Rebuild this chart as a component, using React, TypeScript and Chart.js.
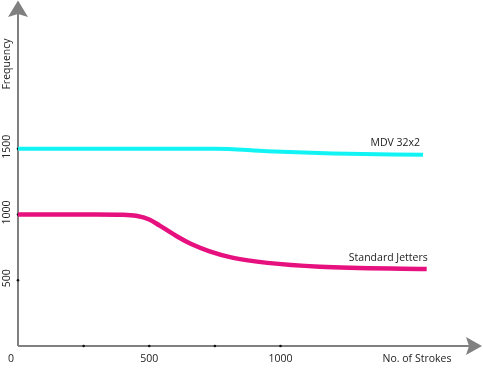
import React, { useEffect, useRef } from "react";
import { Chart, registerables } from "chart.js";
Chart.register(...registerables);

const mdvStrokes = [0, 375, 750, 950, 1200, 1543];
const mdvFreq = [1500, 1500, 1500, 1481, 1464, 1453];
const stdStrokes = [0, 300, 400, 450, 500, 540, 600, 660, 730, 820, 950, 1150, 1557];
const stdFreq = [1000, 1000, 998, 990, 962, 915, 840, 775, 720, 670, 632, 603, 585];
const xTicks = [0, 250, 500, 750, 1000];
const xTickLabels = ["0", "", "500", "", "1000"];
const yTicks = [500, 1000, 1500];
const yTickLabels = ["500", "1000", "1500"];
const seriesNames = ["MDV 32x2", "Standard Jetters"];
const xTitle = "No. of Strokes";
const yTitle = "Frequency";

const FONT = "10.5px 'Open Sans', 'Noto Sans', sans-serif";
const AXIS = "#808080";

const axesPlugin = {
  id: "axesArrows",
  beforeDatasetsDraw(chart: any) {
    const { ctx, scales } = chart;
    const x0 = scales.x.getPixelForValue(0);
    const y0 = scales.y.getPixelForValue(0);
    ctx.save();
    ctx.strokeStyle = AXIS;
    ctx.lineWidth = 2;
    ctx.beginPath();
    ctx.moveTo(x0, y0);
    ctx.lineTo(x0, 14);
    ctx.moveTo(x0, y0);
    ctx.lineTo(470, y0);
    ctx.stroke();
    ctx.fillStyle = AXIS;
    ctx.beginPath();
    ctx.moveTo(x0, 0.5);
    ctx.lineTo(x0 + 10, 17);
    ctx.lineTo(x0, 14);
    ctx.lineTo(x0 - 10, 17);
    ctx.closePath();
    ctx.fill();
    ctx.beginPath();
    ctx.moveTo(482, y0);
    ctx.lineTo(466, y0 - 9);
    ctx.lineTo(469, y0);
    ctx.lineTo(466, y0 + 9);
    ctx.closePath();
    ctx.fill();
    ctx.fillStyle = "#111";
    xTicks.forEach((v) => {
      if (v === 0) return;
      ctx.beginPath();
      ctx.arc(scales.x.getPixelForValue(v), y0, 1.3, 0, Math.PI * 2);
      ctx.fill();
    });
    yTicks.forEach((v) => {
      ctx.beginPath();
      ctx.arc(x0, scales.y.getPixelForValue(v), 1.3, 0, Math.PI * 2);
      ctx.fill();
    });
    ctx.restore();
  },
  afterDraw(chart: any) {
    const { ctx, scales } = chart;
    const y0 = scales.y.getPixelForValue(0);
    ctx.save();
    ctx.font = FONT;
    ctx.fillStyle = "#222";
    ctx.textBaseline = "middle";
    ctx.textAlign = "center";
    xTicks.forEach((v, i) => {
      const lbl = xTickLabels[i];
      if (!lbl) return;
      let px = scales.x.getPixelForValue(v);
      if (v === 0) px -= 7;
      ctx.fillText(lbl, px, y0 + 13.5);
    });
    ctx.fillText(xTitle, 417, y0 + 13.5);
    yTicks.forEach((v, i) => {
      const py = scales.y.getPixelForValue(v);
      ctx.save();
      ctx.translate(7, py - 2);
      ctx.rotate(-Math.PI / 2);
      ctx.fillText(yTickLabels[i], 0, 0);
      ctx.restore();
    });
    ctx.save();
    ctx.translate(7, 64);
    ctx.rotate(-Math.PI / 2);
    ctx.fillText(yTitle, 0, 0);
    ctx.restore();
    ctx.textAlign = "right";
    chart.data.datasets.forEach((ds: any, i: number) => {
      const meta = chart.getDatasetMeta(i);
      const last = meta.data[meta.data.length - 1];
      const dx = i === 0 ? -3 : 1;
      ctx.fillText(seriesNames[i], last.x + dx, last.y - 11.5);
    });
    ctx.restore();
  },
};

export default function App() {
  const ref = useRef<HTMLCanvasElement>(null);
  useEffect(() => {
    const chart = new Chart(ref.current!, {
      type: "line",
      data: {
        datasets: [
          {
            label: seriesNames[0],
            data: mdvStrokes.map((x, i) => ({ x, y: mdvFreq[i] })),
            borderColor: "#12f4f4",
            borderWidth: 4,
            pointRadius: 0,
            cubicInterpolationMode: "monotone",
            fill: false,
          },
          {
            label: seriesNames[1],
            data: stdStrokes.map((x, i) => ({ x, y: stdFreq[i] })),
            borderColor: "#e6107e",
            borderWidth: 4.5,
            pointRadius: 0,
            cubicInterpolationMode: "monotone",
            fill: false,
          },
        ],
      },
      options: {
        animation: false,
        responsive: false,
        maintainAspectRatio: false,
        layout: { padding: { left: 18, right: 3, top: 4, bottom: 22 } },
        plugins: { legend: { display: false }, tooltip: { enabled: false } },
        scales: {
          x: { type: "linear", min: 0, max: 1760, display: false },
          y: { type: "linear", min: 0, max: 2600, display: false },
        },
      },
      plugins: [axesPlugin],
    });
    return () => chart.destroy();
  }, []);
  return (
    <div style={{ position: "fixed", left: 0, top: 0, width: 483, height: 368, background: "#fff" }}>
      <canvas ref={ref} width={483} height={368} style={{ width: 483, height: 368 }} />
    </div>
  );
}
